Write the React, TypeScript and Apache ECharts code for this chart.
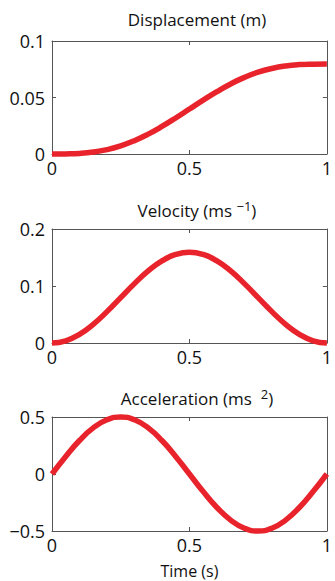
import React, { useEffect, useRef } from "react";
import * as echarts from "echarts";

const time = [0, 0.05, 0.1, 0.15, 0.2, 0.25, 0.3, 0.35, 0.4, 0.45, 0.5, 0.55, 0.6, 0.65, 0.7, 0.75, 0.8, 0.85, 0.9, 0.95, 1];
const displacement = [0, 0.0001, 0.0005, 0.0017, 0.0039, 0.0072, 0.0118, 0.0176, 0.0244, 0.0319, 0.0398, 0.0477, 0.0552, 0.062, 0.0678, 0.0724, 0.0757, 0.0779, 0.0791, 0.0795, 0.0796];
const velocity = [0, 0.0039, 0.0152, 0.0328, 0.055, 0.0796, 0.1042, 0.1264, 0.144, 0.1553, 0.1592, 0.1553, 0.144, 0.1264, 0.1042, 0.0796, 0.055, 0.0328, 0.0152, 0.0039, 0];
const acceleration = [0, 0.1545, 0.2939, 0.4045, 0.4755, 0.5, 0.4755, 0.4045, 0.2939, 0.1545, 0, -0.1545, -0.2939, -0.4045, -0.4755, -0.5, -0.4755, -0.4045, -0.2939, -0.1545, 0];
const yRanges = [
  { min: 0, max: 0.1, interval: 0.05 },
  { min: 0, max: 0.2, interval: 0.1 },
  { min: -0.5, max: 0.5, interval: 0.5 },
];
const xTicks = { min: 0, max: 1, interval: 0.5 };

const FONT = "'Open Sans', sans-serif";
const LINE = "#e8232b";
const AXIS = "#555";

export default function App() {
  const ref = useRef<HTMLDivElement>(null);
  useEffect(() => {
    if (!ref.current) return;
    const chart = echarts.init(ref.current, null, { renderer: "svg" });
    const grids = [
      { left: 52, right: 3, top: 41, height: 113 },
      { left: 52, right: 3, top: 229, height: 114 },
      { left: 52, right: 3, top: 417, height: 114 },
    ];
    const series = [displacement, velocity, acceleration];
    const fmt = (v: number) => {
      if (v === 0) return "0";
      if (v < 0) return "\u2212" + String(-v);
      return String(v);
    };
    const xAxis: any[] = [];
    const yAxis: any[] = [];
    grids.forEach((g, i) => {
      xAxis.push({
        type: "value",
        gridIndex: i,
        ...xTicks,
        axisLine: { show: true, onZero: false, lineStyle: { color: AXIS, width: 1 } },
        axisTick: { show: true, inside: true, length: 4, lineStyle: { color: AXIS } },
        axisLabel: { fontFamily: FONT, fontSize: 18, color: "#111", margin: 5, formatter: fmt },
        splitLine: { show: false },
        name: i === 2 ? "Time (s)" : "",
        nameLocation: "middle",
        nameGap: 31,
        nameTextStyle: { fontFamily: FONT, fontSize: 16, lineHeight: 17, color: "#111" },
      });
      xAxis.push({
        type: "value",
        gridIndex: i,
        position: "top",
        ...xTicks,
        axisLine: { show: true, onZero: false, lineStyle: { color: AXIS, width: 1 } },
        axisTick: { show: true, inside: true, length: 4, lineStyle: { color: AXIS } },
        axisLabel: { show: false },
        splitLine: { show: false },
      });
      yAxis.push({
        type: "value",
        gridIndex: i,
        ...yRanges[i],
        axisLine: { show: true, onZero: false, lineStyle: { color: AXIS, width: 1 } },
        axisTick: { show: true, inside: true, length: 4, lineStyle: { color: AXIS } },
        axisLabel: { fontFamily: FONT, fontSize: 18, color: "#111", margin: 7, formatter: fmt },
        splitLine: { show: false },
      });
      yAxis.push({
        type: "value",
        gridIndex: i,
        position: "right",
        ...yRanges[i],
        axisLine: { show: true, onZero: false, lineStyle: { color: AXIS, width: 1 } },
        axisTick: { show: true, inside: true, length: 4, lineStyle: { color: AXIS } },
        axisLabel: { show: false },
        splitLine: { show: false },
      });
    });
    const titleStyle = {
      fontFamily: FONT,
      fontSize: 17,
      fontWeight: "normal",
      color: "#111",
      rich: {
        n: { fontFamily: FONT, fontSize: 17, fontWeight: "normal", color: "#111" },
        sup: { fontFamily: FONT, fontSize: 13, fontWeight: "normal", color: "#111", verticalAlign: "top", padding: [0, 0, 10, 0] },
      },
    };
    chart.setOption({
      animation: false,
      grid: grids,
      title: [
        { text: "{n|Displacement (m)}", left: 192, top: 6, textAlign: "center", textStyle: titleStyle },
        { text: "{n|Velocity (ms }{sup|\u22121}{n|)}", left: 192, top: 194, textAlign: "center", textStyle: titleStyle },
        { text: "{n|Acceleration (ms  }{sup|2}{n|)}", left: 192, top: 382, textAlign: "center", textStyle: titleStyle },
      ],
      xAxis,
      yAxis,
      series: series.map((vals, i) => ({
        type: "line",
        xAxisIndex: i * 2,
        yAxisIndex: i * 2,
        data: time.map((t, k) => [t, vals[k]]),
        smooth: true,
        showSymbol: false,
        lineStyle: { color: LINE, width: 5.5 },
        clip: false,
      })),
    });
    return () => chart.dispose();
  }, []);
  return <div ref={ref} style={{ position: "fixed", left: 0, top: 0, width: 335, height: 581, background: "#fff" }} />;
}
